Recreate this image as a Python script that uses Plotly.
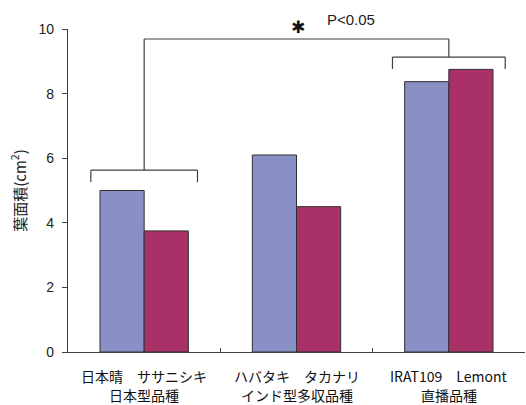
import plotly.graph_objects as go

# Leaf area per cultivar, grouped by cultivar type
groups = ["日本型品種", "インド型多収品種", "直播品種"]
cultivars_a = ["日本晴", "ハバタキ", "IRAT109"]
cultivars_b = ["ササニシキ", "タカナリ", "Lemont"]
area_a = [5.0, 6.1, 8.37]
area_b = [3.75, 4.5, 8.75]
y_ticks = [0, 2, 4, 6, 8, 10]

centers = [i + 0.5 for i in range(len(groups))]
bar_w = 0.29

fig = go.Figure()
fig.add_trace(go.Bar(x=[c - bar_w / 2 for c in centers], y=area_a, width=bar_w,
                     marker=dict(color="#8890C6", line=dict(color="#303030", width=1)),
                     showlegend=False))
fig.add_trace(go.Bar(x=[c + bar_w / 2 for c in centers], y=area_b, width=bar_w,
                     marker=dict(color="#AA3068", line=dict(color="#303030", width=1)),
                     showlegend=False))

line_style = dict(color="#404040", width=1.2)
shapes = []


def bracket(cx, half, top, drop):
    shapes.append(dict(type="line", x0=cx - half, x1=cx + half, y0=top, y1=top, line=line_style))
    shapes.append(dict(type="line", x0=cx - half, x1=cx - half, y0=top, y1=top - drop, line=line_style))
    shapes.append(dict(type="line", x0=cx + half, x1=cx + half, y0=top, y1=top - drop, line=line_style))


# significance brackets: Japanese-type group vs. direct-seeding group
bracket(centers[0], 0.35, 5.63, 0.37)
bracket(centers[2], 0.37, 9.13, 0.37)
top_y = 9.69
shapes.append(dict(type="line", x0=centers[0], x1=centers[0], y0=5.63, y1=top_y, line=line_style))
shapes.append(dict(type="line", x0=centers[2], x1=centers[2], y0=9.13, y1=top_y, line=line_style))
shapes.append(dict(type="line", x0=centers[0], x1=centers[2], y0=top_y, y1=top_y, line=line_style))

annotations = [
    dict(x=1.51, y=1.006, xref="x", yref="paper", text="✱", showarrow=False,
         font=dict(size=17, color="#111111", family="DejaVu Sans"), yanchor="middle"),
    dict(x=1.69, y=1.028, xref="x", yref="paper", text="P&lt;0.05", showarrow=False, xanchor="left",
         font=dict(size=15, color="#222222", family="Liberation Sans"), yanchor="middle"),
]
for c, a, b, g in zip(centers, cultivars_a, cultivars_b, groups):
    annotations.append(dict(x=c, y=0, xref="x", yref="paper", text=f"{a}\u3000{b}",
                            showarrow=False, yanchor="middle", yshift=-24,
                            font=dict(size=14, color="#111111", family="Noto Sans CJK JP")))
    annotations.append(dict(x=c, y=0, xref="x", yref="paper", text=g,
                            showarrow=False, yanchor="middle", yshift=-43,
                            font=dict(size=14, color="#111111", family="Noto Sans CJK JP")))

fig.update_layout(
    width=526, height=405,
    margin=dict(l=68, r=1, t=29, b=53),
    paper_bgcolor="white", plot_bgcolor="white",
    barmode="overlay",
    shapes=shapes,
    annotations=annotations,
    xaxis=dict(range=[0, 3], showgrid=False, zeroline=False, showticklabels=False,
               showline=True, linecolor="#404040", linewidth=1.2,
               tickvals=[1, 2], ticks="inside", ticklen=4, tickcolor="#404040"),
    yaxis=dict(range=[0, 10], tickvals=y_ticks, showgrid=False, zeroline=False,
               showline=True, linecolor="#404040", linewidth=1.2,
               ticks="outside", ticklen=5, tickcolor="#404040", ticklabelstandoff=5,
               tickfont=dict(size=14, family="Liberation Sans", color="#222222"),
               title=dict(text="葉面積(cm<sup>2</sup>)", standoff=8,
                          font=dict(size=15, family="Noto Sans CJK JP", color="#222222"))),
)

fig.write_html("out.html")
